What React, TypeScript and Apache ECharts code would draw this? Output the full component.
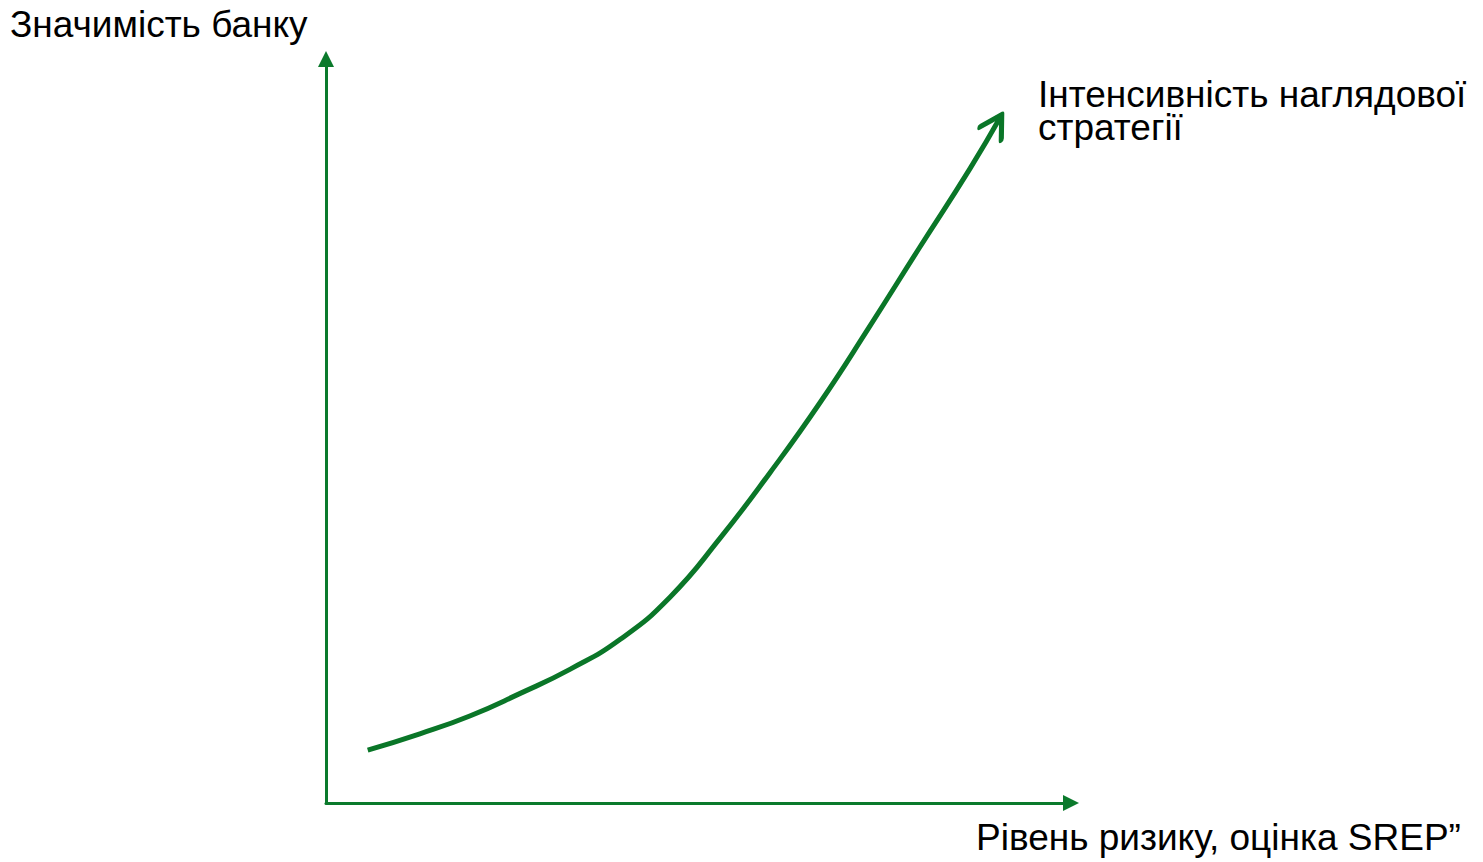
import React, { useEffect, useRef } from 'react';
import * as echarts from 'echarts';

// Curve: risk level (x) vs bank significance (y) (0..100 scale)
const riskLevel = [5.6, 12.6, 19.3, 26.0, 32.8, 39.5, 46.2, 52.9, 59.6, 66.3, 73.0, 79.7, 86.4, 90.7];
const bankSignificance = [7.1, 9.3, 11.7, 14.7, 18.0, 22.0, 27.7, 35.6, 44.4, 53.8, 64.1, 74.7, 85.2, 92.5];

const yAxisTitle = 'Значимість банку';
const xAxisTitle = 'Рівень ризику, оцінка SREP”';
const curveTitle = ['Інтенсивність наглядової', 'стратегії'];

const AXIS_COLOR = '#0b7a2c';
const CURVE_COLOR = '#0a7628';
const FONT = '"Liberation Sans", Arial, Helvetica, sans-serif';

// open chevron arrow head whose tip sits at the centre of its bounding box
const CHEVRON = 'path://M-12.5,21.6 L0,0 L12.5,21.6 M0,-21.6';

export default function App() {
  const ref = useRef<HTMLDivElement>(null);

  useEffect(() => {
    if (!ref.current) return;
    const chart = echarts.init(ref.current, undefined, { renderer: 'svg' });
    const points = riskLevel.map((x, i) => [x, bankSignificance[i]]);
    const last = points[points.length - 1];

    const axisCommon = {
      type: 'value',
      min: 0,
      max: 100,
      axisLine: {
        show: true,
        onZero: false,
        symbol: ['none', 'triangle'],
        symbolSize: [16, 16],
        lineStyle: { color: AXIS_COLOR, width: 3 },
      },
      axisTick: { show: false },
      axisLabel: { show: false },
      splitLine: { show: false },
    };

    const textFont = `37px ${FONT}`;

    chart.setOption({
      animation: false,
      backgroundColor: '#ffffff',
      grid: { left: 326, right: 412, top: 59, bottom: 59 },
      xAxis: axisCommon,
      yAxis: axisCommon,
      series: [
        {
          type: 'line',
          data: points,
          smooth: 0.5,
          symbol: 'none',
          lineStyle: { color: CURVE_COLOR, width: 5, cap: 'butt' },
          silent: true,
        },
        {
          type: 'scatter',
          data: [last],
          symbol: CHEVRON,
          symbolSize: [25, 43.2],
          symbolRotate: -31,
          itemStyle: {
            color: 'rgba(0,0,0,0)',
            borderColor: CURVE_COLOR,
            borderWidth: 5.5,
            borderCap: 'round',
            borderJoin: 'round',
            opacity: 1,
          },
          silent: true,
        },
      ],
      graphic: [
        {
          type: 'text',
          left: 10,
          top: 5,
          style: { text: yAxisTitle, font: textFont, lineHeight: 38, fill: '#000000' },
        },
        {
          type: 'text',
          left: 976,
          top: 818,
          style: { text: xAxisTitle, font: textFont, lineHeight: 38, fill: '#000000' },
        },
        {
          type: 'text',
          left: 1038,
          top: 76,
          style: { text: curveTitle[0], font: textFont, lineHeight: 33, fill: '#000000' },
        },
        {
          type: 'text',
          left: 1038,
          top: 109,
          style: { text: curveTitle[1], font: textFont, lineHeight: 33, fill: '#000000' },
        },
      ],
    });

    return () => chart.dispose();
  }, []);

  return <div ref={ref} style={{ position: 'absolute', left: 0, top: 0, width: 1483, height: 862 }} />;
}
